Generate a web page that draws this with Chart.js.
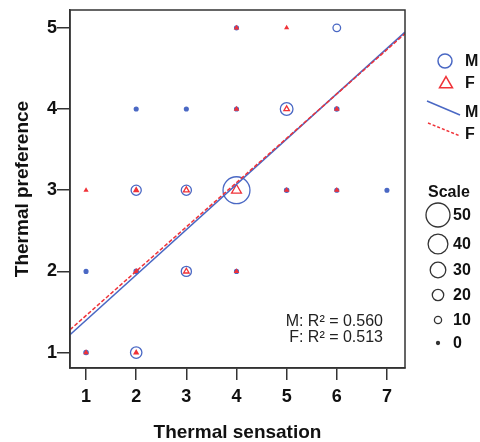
<!DOCTYPE html>
<html><head><meta charset="utf-8">
<script src="https://cdn.jsdelivr.net/npm/chart.js@4"></script>
<style>html,body{margin:0;padding:0;background:#fff}#wrap{width:480px;height:442px;position:relative}</style>
</head><body><div id="wrap"><canvas id="c" width="480" height="442"></canvas></div>
<script>
// ---- data ----
const xTicks = [1, 2, 3, 4, 5, 6, 7];
const yTicks = [1, 2, 3, 4, 5];
const maleX = [4, 6, 2, 3, 4, 5, 6, 2, 3, 4, 5, 6, 7, 1, 2, 3, 4, 1, 2];
const maleY = [5, 5, 4, 4, 4, 4, 4, 3, 3, 3, 3, 3, 3, 2, 2, 2, 2, 1, 1];
const maleN = [2, 11, 2, 2, 2, 23, 3, 17, 17, 57, 3, 2, 2, 2, 3, 17, 2, 3, 20];
const femaleX = [4, 5, 4, 5, 6, 1, 2, 3, 4, 5, 6, 2, 3, 4, 1, 2];
const femaleY = [5, 5, 4, 4, 4, 3, 3, 3, 3, 3, 3, 2, 2, 2, 1, 1];
const femaleN = [2, 1, 2, 8, 2, 1, 5, 9, 20, 2, 2, 3, 8, 2, 2, 4];
const maleFit = [0.84, 0.558];   // intercept, slope
const femaleFit = [0.91, 0.546];
const maleR2 = 0.560;
const femaleR2 = 0.513;
const scaleValues = [50, 40, 30, 20, 10, 0];
const xLabel = 'Thermal sensation';
const yLabel = 'Thermal preference';

// ---- styling ----
const BLUE = '#4a68c4';
const RED = '#f03238';
const INK = '#333333';
const FONT = "'Liberation Sans', Arial, sans-serif";
const XMIN = 0.68, XMAX = 7.36, YMIN = 0.81, YMAX = 5.22;
const rad = n => 1.5 + 0.21 * n;
const fillFor = (n, col) => (n <= 5 ? col : 'rgba(0,0,0,0)');

const pts = (xs, ys) => xs.map((x, i) => ({x: x, y: ys[i]}));
const fitLine = f => [XMIN, XMAX].map(x => ({x: x, y: f[0] + f[1] * x}));

const legendPlugin = {
  id: 'legendPlugin',
  afterDraw(chart) {
    const ctx = chart.ctx, a = chart.chartArea;
    ctx.save();
    // frame
    ctx.strokeStyle = INK; ctx.lineWidth = 1.5;
    ctx.strokeRect(a.left, a.top, a.right - a.left, a.bottom - a.top);
    // R2 text
    ctx.fillStyle = '#222';
    ctx.font = '16px ' + FONT;
    ctx.textAlign = 'right'; ctx.textBaseline = 'middle';
    ctx.fillText('M: R\u00b2 = ' + maleR2.toFixed(3), 383, 322);
    ctx.fillText('F: R\u00b2 = ' + femaleR2.toFixed(3), 383, 338);
    // series legend
    ctx.textAlign = 'left';
    ctx.font = 'bold 16px ' + FONT;
    ctx.fillStyle = '#111';
    ctx.lineWidth = 1.5;
    ctx.strokeStyle = BLUE;
    ctx.beginPath(); ctx.arc(445, 61, 7, 0, Math.PI * 2); ctx.stroke();
    ctx.fillText('M', 465, 62);
    ctx.strokeStyle = RED;
    ctx.beginPath();
    const tr = 7.5, tx = 446, ty = 84;
    for (let k = 0; k < 3; k++) {
      const ang = k * 2 * Math.PI / 3;
      const px = tx + Math.sin(ang) * tr, py = ty - Math.cos(ang) * tr;
      k === 0 ? ctx.moveTo(px, py) : ctx.lineTo(px, py);
    }
    ctx.closePath(); ctx.stroke();
    ctx.fillText('F', 465, 84);
    ctx.strokeStyle = BLUE;
    ctx.beginPath(); ctx.moveTo(427, 101); ctx.lineTo(460, 115); ctx.stroke();
    ctx.fillText('M', 465, 113);
    ctx.strokeStyle = RED; ctx.setLineDash([3, 2]);
    ctx.beginPath(); ctx.moveTo(428, 123); ctx.lineTo(460, 136); ctx.stroke();
    ctx.setLineDash([]);
    ctx.fillText('F', 465, 135);
    // size scale
    ctx.fillText('Scale', 428, 193);
    const rows = [215, 244, 270, 295, 320, 343];
    ctx.strokeStyle = INK; ctx.lineWidth = 1.3;
    scaleValues.forEach((v, i) => {
      ctx.beginPath(); ctx.arc(438, rows[i], rad(v), 0, Math.PI * 2);
      if (v === 0) { ctx.fillStyle = INK; ctx.fill(); ctx.fillStyle = '#111'; }
      ctx.stroke();
      ctx.fillText(String(v), 453, rows[i] + 1);
    });
    ctx.restore();
  }
};

new Chart(document.getElementById('c'), {
  type: 'scatter',
  data: {
    datasets: [
      {label: 'F fit', type: 'line', data: fitLine(femaleFit), borderColor: RED, borderWidth: 1.5,
       borderDash: [4, 2], pointRadius: 0, fill: false},
      {label: 'M fit', type: 'line', data: fitLine(maleFit), borderColor: BLUE, borderWidth: 1.5,
       pointRadius: 0, fill: false},
      {label: 'F', type: 'line', showLine: false, data: pts(femaleX, femaleY), pointStyle: 'triangle',
       borderColor: RED, pointBorderColor: RED,
       pointBackgroundColor: c => fillFor(femaleN[c.dataIndex], RED), pointBorderWidth: 1.3,
       pointRadius: c => rad(femaleN[c.dataIndex])},
      {label: 'M', type: 'line', showLine: false, data: pts(maleX, maleY), pointStyle: 'circle',
       borderColor: BLUE, pointBorderColor: BLUE,
       pointBackgroundColor: c => fillFor(maleN[c.dataIndex], BLUE), pointBorderWidth: 1.3,
       pointRadius: c => rad(maleN[c.dataIndex])}
    ]
  },
  options: {
    responsive: false, animation: false, devicePixelRatio: 1,
    layout: {padding: {top: 10, right: 75, left: 0, bottom: 0}},
    plugins: {legend: {display: false}, tooltip: {enabled: false}},
    scales: {
      x: {
        type: 'linear', min: XMIN, max: XMAX,
        afterBuildTicks: s => { s.ticks = xTicks.map(v => ({value: v})); },
        afterFit: s => { s.height = 74; },
        grid: {drawOnChartArea: false, tickLength: 12, color: INK, lineWidth: 1.5},
        border: {color: INK, width: 1.5},
        ticks: {padding: 6, color: '#111', font: {family: FONT, size: 18, weight: 'bold'}},
        title: {display: true, text: xLabel, color: '#111', padding: {top: 0, bottom: 0},
                font: {family: FONT, size: 19, weight: 'bold', lineHeight: 1}}
      },
      y: {
        type: 'linear', min: YMIN, max: YMAX,
        afterBuildTicks: s => { s.ticks = yTicks.map(v => ({value: v})); },
        afterFit: s => { s.width = 70; },
        grid: {drawOnChartArea: false, tickLength: 13, color: INK, lineWidth: 1.5},
        border: {color: INK, width: 1.5},
        ticks: {padding: 0, color: '#111', font: {family: FONT, size: 18, weight: 'bold', lineHeight: 0.9}},
        title: {display: true, text: yLabel, color: '#111', padding: {top: 13, bottom: 0},
                font: {family: FONT, size: 19, weight: 'bold', lineHeight: 1}}
      }
    }
  },
  plugins: [legendPlugin]
});
</script></body></html>
